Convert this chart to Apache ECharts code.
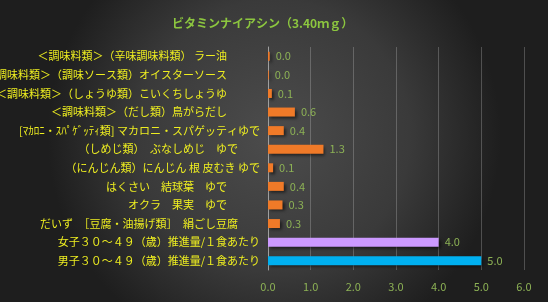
<!DOCTYPE html>
<html>
<head>
<meta charset="utf-8">
<script src="https://cdn.jsdelivr.net/npm/echarts@6/dist/echarts.min.js"></script>
<style>html,body{margin:0;padding:0;background:#333;}#c{width:548px;height:302px;}</style>
</head>
<body>
<div id="c"></div>
<script>
const titleText = 'ビタミンナイアシン（3.40ｍｇ）';
const categories = [
  '＜調味料類＞（辛味調味料類） ラー油　　　',
  '＜調味料類＞（調味ソース類）オイスターソース　　　',
  '＜調味料類＞（しょうゆ類）こいくちしょうゆ　　　',
  '＜調味料類＞（だし類）鳥がらだし　　　',
  '[ﾏｶﾛﾆ・ｽﾊﾟｹﾞｯﾃｨ類] マカロニ・スパゲッティゆで',
  '（しめじ類）　ぶなしめじ　ゆで　　',
  '（にんじん類）にんじん 根 皮むき ゆで',
  'はくさい　結球葉　ゆで　　　',
  'オクラ　果実　ゆで　　　',
  'だいず　［豆腐・油揚げ類］　絹ごし豆腐　　',
  '女子３０～４９（歳）推進量/１食あたり',
  '男子３０～４９（歳）推進量/１食あたり'
];
const values = [0.04, 0.02, 0.09, 0.63, 0.37, 1.30, 0.12, 0.37, 0.34, 0.28, 4.0, 5.0];
const xTicks = [0, 1, 2, 3, 4, 5, 6];

const chart = echarts.init(document.getElementById('c'), null, {renderer: 'canvas'});
const font = '"Noto Sans CJK JP", "Noto Sans", sans-serif';
chart.setOption({
  animation: false,
  backgroundColor: {
    type: 'radial', x: 0.5, y: 0.45, r: 0.75,
    colorStops: [
      {offset: 0, color: '#4c4c4c'},
      {offset: 0.6, color: '#3a3a3a'},
      {offset: 1, color: '#1e1e1e'}
    ]
  },
  title: {
    text: titleText,
    left: 167, top: 12,
    textStyle: {color: '#8CC63F', fontSize: 12, fontWeight: 'bold', fontFamily: font}
  },
  grid: {left: 268, right: 24, top: 47, bottom: 32, containLabel: false, outerBoundsMode: 'none'},
  xAxis: {
    type: 'value',
    min: xTicks[0], max: xTicks[xTicks.length - 1], interval: 1,
    axisLine: {show: false},
    axisTick: {show: false},
    splitLine: {show: true, lineStyle: {color: 'rgba(210,210,210,0.28)', width: 1}},
    axisLabel: {
      color: '#8DB255', fontSize: 11, fontFamily: font, margin: 11,
      formatter: v => v.toFixed(1)
    }
  },
  yAxis: {
    type: 'category',
    data: categories,
    inverse: true,
    axisLine: {show: true, lineStyle: {color: '#a0a0a0', width: 1}},
    axisTick: {show: false},
    splitLine: {show: false},
    axisLabel: {color: '#EEEE20', fontSize: 11, fontFamily: font, margin: 8, interval: 0}
  },
  series: [{
    type: 'bar',
    data: values,
    barWidth: 9,
    itemStyle: {
      color: p => p.dataIndex === 11 ? '#00B0F0' : (p.dataIndex === 10 ? '#CC99FF' : '#F07A28'),
      shadowColor: 'rgba(0,0,0,0.55)', shadowBlur: 3, shadowOffsetX: 2, shadowOffsetY: 2
    },
    label: {
      show: true, position: 'right', distance: 6,
      color: '#8DB255', fontSize: 11, fontFamily: font,
      formatter: p => p.value.toFixed(1)
    }
  }]
});
</script>
</body>
</html>
